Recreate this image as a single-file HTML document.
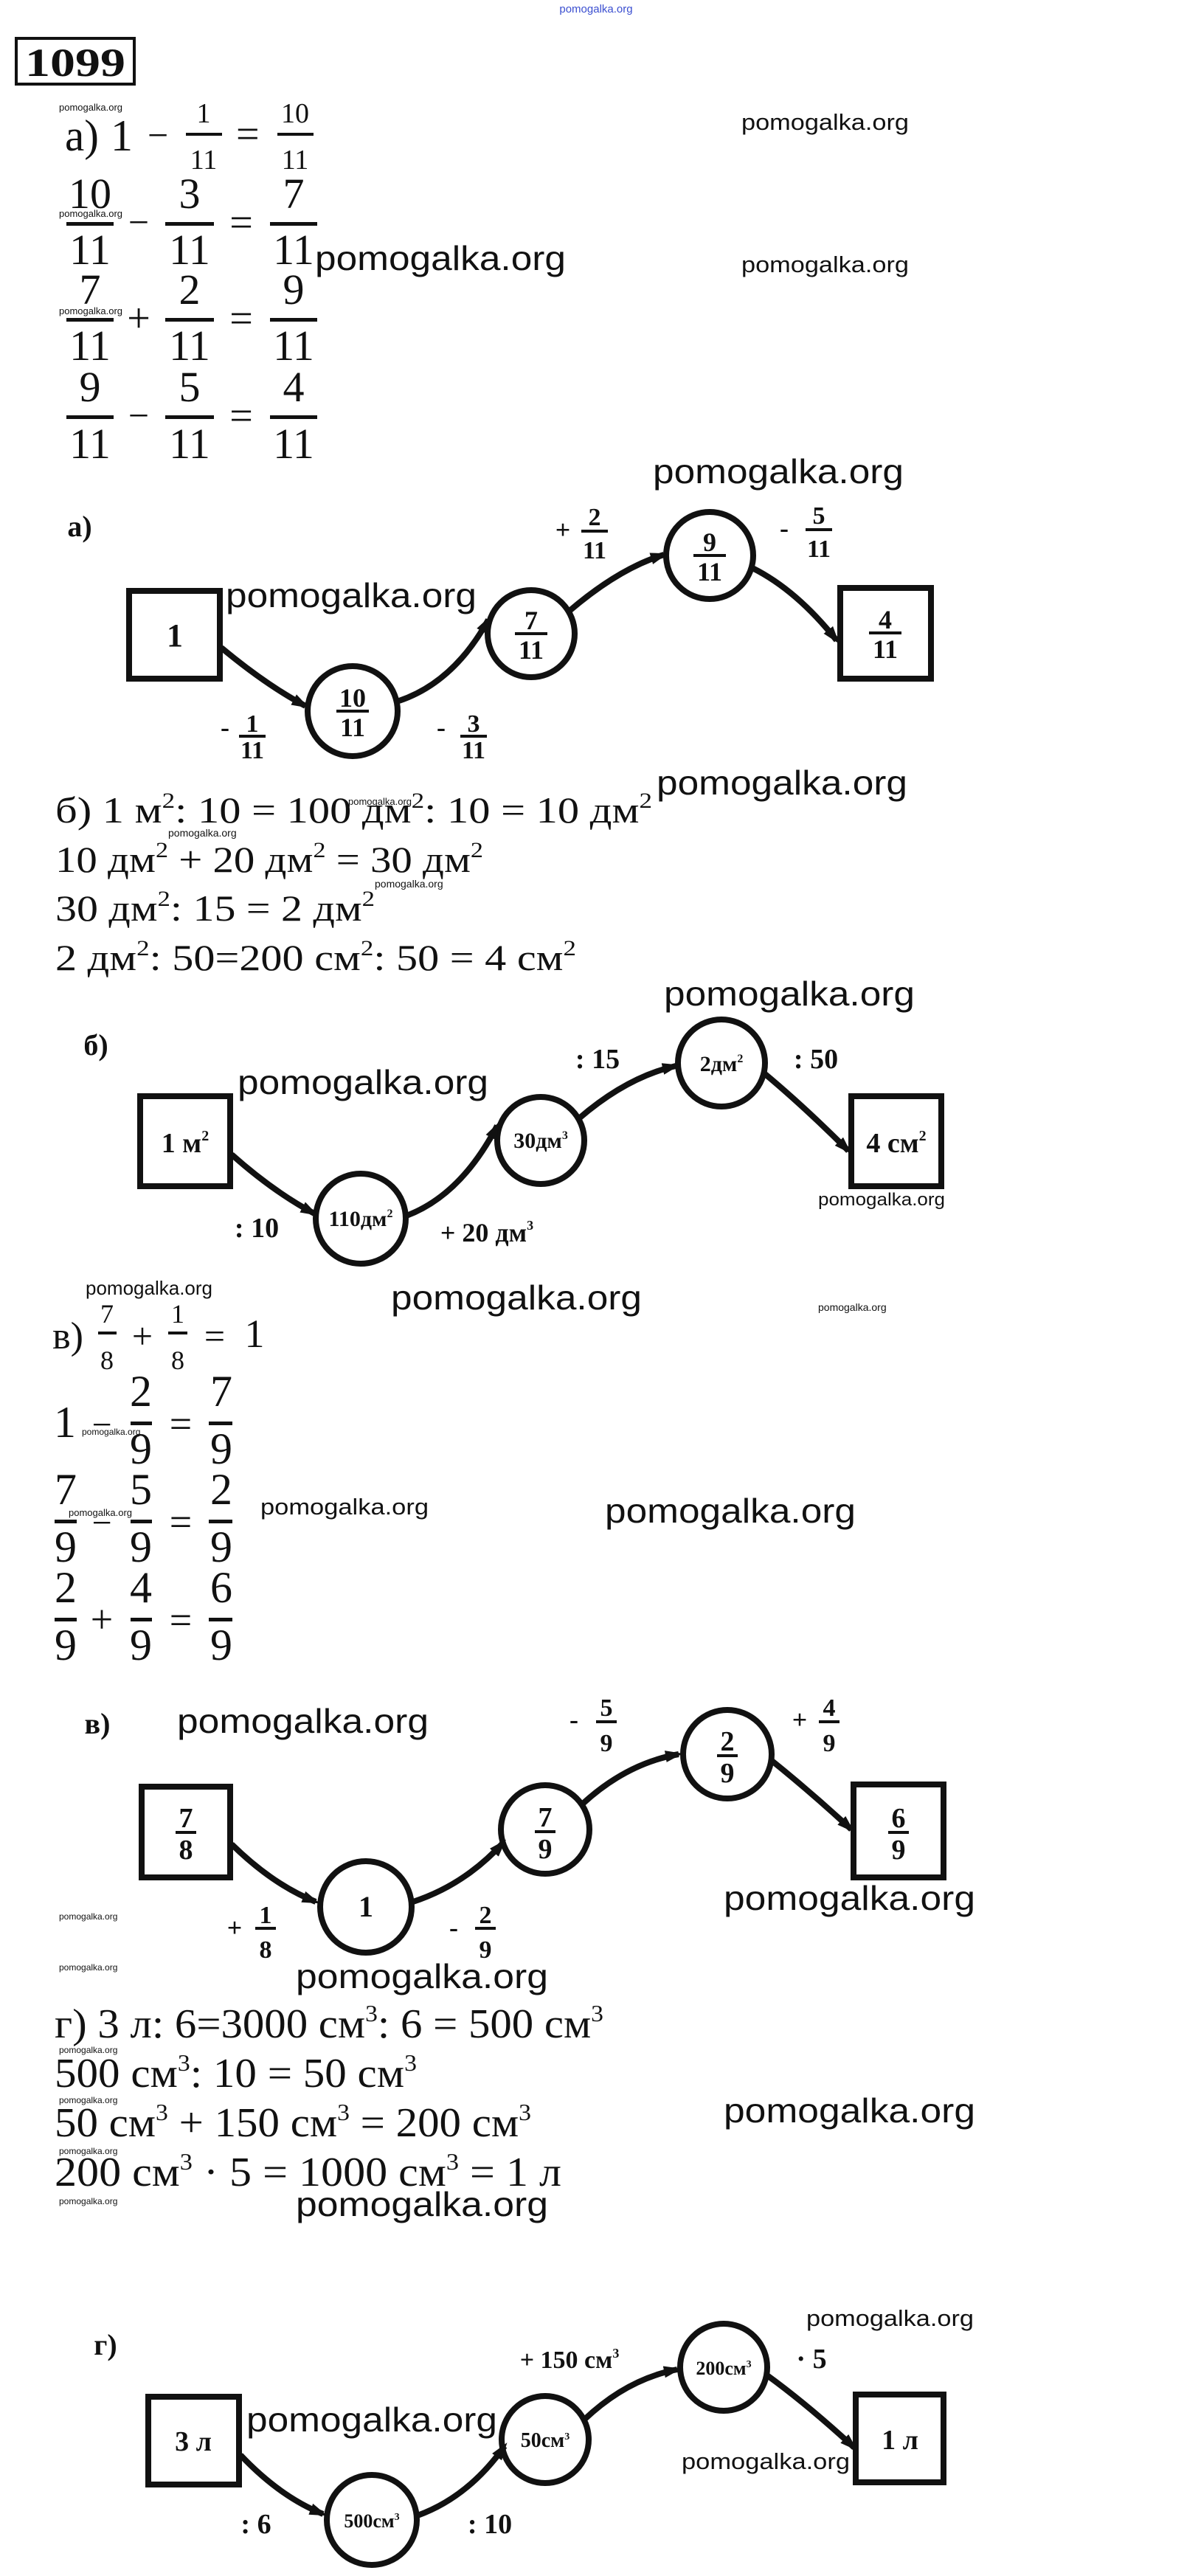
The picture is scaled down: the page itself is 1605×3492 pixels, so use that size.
<!DOCTYPE html>
<html><head><meta charset="utf-8">
<style>
html,body{margin:0;padding:0;background:#fff;}
svg{display:block;}
.wm{font-family:"Liberation Sans",sans-serif;fill:#111;}
.eq{font-family:"Liberation Serif",serif;fill:#111;}
.lb{font-family:"Liberation Serif",serif;font-weight:bold;fill:#111;}
</style></head>
<body>
<svg width="1605" height="3492" viewBox="0 0 1605 3492" xmlns="http://www.w3.org/2000/svg">
<defs>
<marker id="ah" markerWidth="24" markerHeight="20" refX="18" refY="10" orient="auto" markerUnits="userSpaceOnUse">
<path d="M0,2 L24,10 L0,18 z" fill="#111"/>
</marker>
</defs>
<rect width="1605" height="3492" fill="#fff"/>

<text x="808" y="17" font-size="15" text-anchor="middle" class="wm" style="fill:#3b4fd0">pomogalka.org</text>

<rect x="22" y="52" width="160" height="62" fill="none" stroke="#111" stroke-width="4"/>
<text x="102" y="103" font-size="54" font-weight="bold" text-anchor="middle" class="eq" textLength="136" lengthAdjust="spacingAndGlyphs">1099</text>

<g class="eq">
<text x="88" y="204" font-size="60" textLength="46" lengthAdjust="spacingAndGlyphs">а)</text>
<text x="150" y="204" font-size="60">1</text>
<text x="200" y="200" font-size="50">−</text>
<text x="276" y="166" font-size="38" text-anchor="middle">1</text>
<rect x="252" y="180" width="49" height="4" fill="#111"/>
<text x="276" y="229" font-size="38" text-anchor="middle">11</text>
<text x="320" y="200" font-size="56">=</text>
<text x="400" y="166" font-size="38" text-anchor="middle">10</text>
<rect x="376" y="180" width="49" height="4" fill="#111"/>
<text x="400" y="229" font-size="38" text-anchor="middle">11</text>
</g>

<g class="eq" font-size="58" text-anchor="middle">
<text x="122" y="282">10</text><rect x="90" y="301" width="64" height="5" fill="#111"/><text x="122" y="358">11</text>
<text x="188" y="318" font-size="50">−</text>
<text x="257" y="282">3</text><rect x="224" y="301" width="66" height="5" fill="#111"/><text x="257" y="358">11</text>
<text x="327" y="320" font-size="56">=</text>
<text x="398" y="282">7</text><rect x="366" y="301" width="64" height="5" fill="#111"/><text x="398" y="358">11</text>
<text x="122" y="412">7</text><rect x="90" y="431" width="64" height="5" fill="#111"/><text x="122" y="488">11</text>
<text x="188" y="450" font-size="56">+</text>
<text x="257" y="412">2</text><rect x="224" y="431" width="66" height="5" fill="#111"/><text x="257" y="488">11</text>
<text x="327" y="450" font-size="56">=</text>
<text x="398" y="412">9</text><rect x="366" y="431" width="64" height="5" fill="#111"/><text x="398" y="488">11</text>
<text x="122" y="544">9</text><rect x="90" y="563" width="64" height="5" fill="#111"/><text x="122" y="621">11</text>
<text x="188" y="580" font-size="50">−</text>
<text x="257" y="544">5</text><rect x="224" y="563" width="66" height="5" fill="#111"/><text x="257" y="621">11</text>
<text x="327" y="582" font-size="56">=</text>
<text x="398" y="544">4</text><rect x="366" y="563" width="64" height="5" fill="#111"/><text x="398" y="621">11</text>
</g>

<g class="wm">
<text x="80" y="150" font-size="13">pomogalka.org</text>
<text x="80" y="294" font-size="13">pomogalka.org</text>
<text x="80" y="426" font-size="13">pomogalka.org</text>
<text x="427" y="366" font-size="46" textLength="340" lengthAdjust="spacingAndGlyphs">pomogalka.org</text>
<text x="1005" y="176" font-size="31" textLength="227" lengthAdjust="spacingAndGlyphs">pomogalka.org</text>
<text x="1005" y="369" font-size="31" textLength="227" lengthAdjust="spacingAndGlyphs">pomogalka.org</text>
<text x="885" y="655" font-size="46" textLength="340" lengthAdjust="spacingAndGlyphs">pomogalka.org</text>
<text x="306" y="823" font-size="46" textLength="340" lengthAdjust="spacingAndGlyphs">pomogalka.org</text>
<text x="890" y="1077" font-size="46" textLength="340" lengthAdjust="spacingAndGlyphs">pomogalka.org</text>
</g>

<g stroke="#111" stroke-width="8" fill="none">
<rect x="175" y="801" width="123" height="119"/>
<circle cx="478" cy="964" r="61"/>
<circle cx="720" cy="859" r="59"/>
<circle cx="962" cy="753" r="59"/>
<rect x="1139" y="797" width="123" height="123"/>
<path d="M300,878 Q360,928 414,957" marker-end="url(#ah)"/>
<path d="M541,950 Q615,925 662,840" marker-end="url(#ah)"/>
<path d="M772,828 Q840,770 900,752" marker-end="url(#ah)"/>
<path d="M1020,770 Q1080,800 1134,868" marker-end="url(#ah)"/>
</g>
<g class="lb" text-anchor="middle">
<text x="108" y="727" font-size="40">а)</text>
<text x="237" y="876" font-size="44">1</text>
<text x="478" y="958" font-size="36">10</text><rect x="456" y="962" width="44" height="4" fill="#111"/><text x="478" y="998" font-size="36">11</text>
<text x="720" y="853" font-size="36">7</text><rect x="698" y="857" width="44" height="4" fill="#111"/><text x="720" y="893" font-size="36">11</text>
<text x="962" y="747" font-size="36">9</text><rect x="940" y="751" width="44" height="4" fill="#111"/><text x="962" y="787" font-size="36">11</text>
<text x="1200" y="852" font-size="36">4</text><rect x="1178" y="856" width="44" height="4" fill="#111"/><text x="1200" y="892" font-size="36">11</text>
<text x="305" y="998" font-size="36">-</text><text x="342" y="992" font-size="34">1</text><rect x="324" y="996" width="36" height="4" fill="#111"/><text x="342" y="1028" font-size="34">11</text>
<text x="598" y="998" font-size="36">-</text><text x="642" y="992" font-size="34">3</text><rect x="624" y="996" width="36" height="4" fill="#111"/><text x="642" y="1028" font-size="34">11</text>
<text x="763" y="730" font-size="36">+</text><text x="806" y="712" font-size="34">2</text><rect x="788" y="718" width="36" height="4" fill="#111"/><text x="806" y="757" font-size="34">11</text>
<text x="1063" y="728" font-size="36">-</text><text x="1110" y="710" font-size="34">5</text><rect x="1092" y="716" width="36" height="4" fill="#111"/><text x="1110" y="755" font-size="34">11</text>
</g>

<g class="eq" font-size="50">
<text x="75" y="1115" textLength="809" lengthAdjust="spacingAndGlyphs">б) 1 м<tspan font-size="30" dy="-20">2</tspan><tspan dy="20">: 10 = 100 дм</tspan><tspan font-size="30" dy="-20">2</tspan><tspan dy="20">: 10 = 10 дм</tspan><tspan font-size="30" dy="-20">2</tspan></text>
<text x="75" y="1182" textLength="580" lengthAdjust="spacingAndGlyphs">10 дм<tspan font-size="30" dy="-20">2</tspan><tspan dy="20"> + 20 дм</tspan><tspan font-size="30" dy="-20">2</tspan><tspan dy="20"> = 30 дм</tspan><tspan font-size="30" dy="-20">2</tspan></text>
<text x="75" y="1248" textLength="433" lengthAdjust="spacingAndGlyphs">30 дм<tspan font-size="30" dy="-20">2</tspan><tspan dy="20">: 15 = 2 дм</tspan><tspan font-size="30" dy="-20">2</tspan></text>
<text x="75" y="1315" textLength="706" lengthAdjust="spacingAndGlyphs">2 дм<tspan font-size="30" dy="-20">2</tspan><tspan dy="20">: 50=200 см</tspan><tspan font-size="30" dy="-20">2</tspan><tspan dy="20">: 50 = 4 см</tspan><tspan font-size="30" dy="-20">2</tspan></text>
</g>
<g class="wm">
<text x="472" y="1091" font-size="13">pomogalka.org</text>
<text x="228" y="1134" font-size="14">pomogalka.org</text>
<text x="508" y="1203" font-size="14">pomogalka.org</text>
<text x="900" y="1363" font-size="46" textLength="340" lengthAdjust="spacingAndGlyphs">pomogalka.org</text>
<text x="322" y="1483" font-size="46" textLength="340" lengthAdjust="spacingAndGlyphs">pomogalka.org</text>
<text x="1109" y="1634" font-size="24" textLength="172" lengthAdjust="spacingAndGlyphs">pomogalka.org</text>
<text x="116" y="1755" font-size="26" textLength="172" lengthAdjust="spacingAndGlyphs">pomogalka.org</text>
<text x="530" y="1775" font-size="46" textLength="340" lengthAdjust="spacingAndGlyphs">pomogalka.org</text>
<text x="1109" y="1777" font-size="14">pomogalka.org</text>
</g>

<g stroke="#111" stroke-width="8" fill="none">
<rect x="190" y="1486" width="122" height="122"/>
<circle cx="489" cy="1652" r="61"/>
<circle cx="733" cy="1546" r="59"/>
<circle cx="978" cy="1441" r="59"/>
<rect x="1154" y="1486" width="122" height="122"/>
<path d="M314,1565 Q370,1615 426,1645" marker-end="url(#ah)"/>
<path d="M551,1648 Q625,1620 674,1526" marker-end="url(#ah)"/>
<path d="M785,1516 Q850,1460 916,1445" marker-end="url(#ah)"/>
<path d="M1036,1455 Q1090,1500 1150,1560" marker-end="url(#ah)"/>
</g>
<g class="lb" text-anchor="middle">
<text x="130" y="1430" font-size="40">б)</text>
<text x="251" y="1562" font-size="38">1 м<tspan font-size="20" dy="-16">2</tspan></text>
<text x="489" y="1662" font-size="30">110дм<tspan font-size="16" dy="-12">2</tspan></text>
<text x="733" y="1556" font-size="30">30дм<tspan font-size="16" dy="-12">3</tspan></text>
<text x="978" y="1452" font-size="30">2дм<tspan font-size="16" dy="-12">2</tspan></text>
<text x="1215" y="1562" font-size="38">4 см<tspan font-size="20" dy="-16">2</tspan></text>
<text x="348" y="1677" font-size="38">: 10</text>
<text x="660" y="1683" font-size="36">+ 20 дм<tspan font-size="18" dy="-16">3</tspan></text>
<text x="810" y="1448" font-size="38">: 15</text>
<text x="1106" y="1448" font-size="38">: 50</text>
</g>

<g class="eq" text-anchor="middle">
<text x="92" y="1828" font-size="52">в)</text>
<text x="145" y="1793" font-size="36">7</text><rect x="133" y="1805" width="25" height="4" fill="#111"/><text x="145" y="1856" font-size="36">8</text>
<text x="193" y="1828" font-size="50">+</text>
<text x="241" y="1793" font-size="36">1</text><rect x="228" y="1805" width="26" height="4" fill="#111"/><text x="241" y="1856" font-size="36">8</text>
<text x="291" y="1828" font-size="50">=</text>
<text x="345" y="1826" font-size="54">1</text>
</g>
<g class="eq" font-size="60" text-anchor="middle">
<text x="88" y="1948">1</text>
<text x="138" y="1947" font-size="48">−</text>
<text x="191" y="1906">2</text><rect x="177" y="1927" width="29" height="5" fill="#111"/><text x="191" y="1984">9</text>
<text x="245" y="1948" font-size="54">=</text>
<text x="300" y="1906">7</text><rect x="283" y="1927" width="32" height="5" fill="#111"/><text x="300" y="1984">9</text>
<text x="89" y="2039">7</text><rect x="74" y="2060" width="30" height="5" fill="#111"/><text x="89" y="2117">9</text>
<text x="138" y="2080" font-size="48">−</text>
<text x="191" y="2039">5</text><rect x="177" y="2060" width="29" height="5" fill="#111"/><text x="191" y="2117">9</text>
<text x="245" y="2081" font-size="54">=</text>
<text x="300" y="2039">2</text><rect x="283" y="2060" width="32" height="5" fill="#111"/><text x="300" y="2117">9</text>
<text x="89" y="2172">2</text><rect x="74" y="2193" width="30" height="5" fill="#111"/><text x="89" y="2250">9</text>
<text x="138" y="2213" font-size="54">+</text>
<text x="191" y="2172">4</text><rect x="177" y="2193" width="29" height="5" fill="#111"/><text x="191" y="2250">9</text>
<text x="245" y="2214" font-size="54">=</text>
<text x="300" y="2172">6</text><rect x="283" y="2193" width="32" height="5" fill="#111"/><text x="300" y="2250">9</text>
</g>
<g class="wm">
<text x="111" y="1945" font-size="12">pomogalka.org</text>
<text x="93" y="2055" font-size="13">pomogalka.org</text>
<text x="353" y="2053" font-size="31" textLength="228" lengthAdjust="spacingAndGlyphs">pomogalka.org</text>
<text x="820" y="2064" font-size="46" textLength="340" lengthAdjust="spacingAndGlyphs">pomogalka.org</text>
<text x="240" y="2349" font-size="46" textLength="341" lengthAdjust="spacingAndGlyphs">pomogalka.org</text>
<text x="981" y="2589" font-size="46" textLength="341" lengthAdjust="spacingAndGlyphs">pomogalka.org</text>
<text x="80" y="2602" font-size="12">pomogalka.org</text>
<text x="80" y="2671" font-size="12">pomogalka.org</text>
<text x="401" y="2695" font-size="46" textLength="342" lengthAdjust="spacingAndGlyphs">pomogalka.org</text>
</g>

<g stroke="#111" stroke-width="8" fill="none">
<rect x="192" y="2422" width="120" height="123"/>
<circle cx="496" cy="2585" r="62"/>
<circle cx="739" cy="2480" r="60"/>
<circle cx="986" cy="2378" r="60"/>
<rect x="1157" y="2419" width="122" height="126"/>
<path d="M314,2500 Q370,2555 428,2578" marker-end="url(#ah)"/>
<path d="M560,2578 Q630,2555 682,2498" marker-end="url(#ah)"/>
<path d="M790,2445 Q850,2390 920,2378" marker-end="url(#ah)"/>
<path d="M1044,2385 Q1100,2430 1154,2480" marker-end="url(#ah)"/>
</g>
<g class="lb" text-anchor="middle">
<text x="132" y="2350" font-size="40">в)</text>
<text x="252" y="2477" font-size="38">7</text><rect x="238" y="2482" width="28" height="4" fill="#111"/><text x="252" y="2520" font-size="38">8</text>
<text x="496" y="2598" font-size="40">1</text>
<text x="739" y="2476" font-size="38">7</text><rect x="725" y="2481" width="28" height="4" fill="#111"/><text x="739" y="2519" font-size="38">9</text>
<text x="986" y="2373" font-size="38">2</text><rect x="972" y="2378" width="28" height="4" fill="#111"/><text x="986" y="2416" font-size="38">9</text>
<text x="1218" y="2477" font-size="38">6</text><rect x="1204" y="2482" width="28" height="4" fill="#111"/><text x="1218" y="2520" font-size="38">9</text>
<text x="318" y="2625" font-size="36">+</text><text x="360" y="2607" font-size="34">1</text><rect x="346" y="2612" width="28" height="4" fill="#111"/><text x="360" y="2654" font-size="34">8</text>
<text x="615" y="2625" font-size="36">-</text><text x="658" y="2607" font-size="34">2</text><rect x="644" y="2612" width="28" height="4" fill="#111"/><text x="658" y="2654" font-size="34">9</text>
<text x="778" y="2343" font-size="36">-</text><text x="822" y="2326" font-size="34">5</text><rect x="808" y="2332" width="28" height="4" fill="#111"/><text x="822" y="2374" font-size="34">9</text>
<text x="1084" y="2343" font-size="36">+</text><text x="1124" y="2326" font-size="34">4</text><rect x="1110" y="2332" width="28" height="4" fill="#111"/><text x="1124" y="2374" font-size="34">9</text>
</g>

<g class="eq" font-size="56">
<text x="74" y="2762" textLength="744" lengthAdjust="spacingAndGlyphs">г) 3 л: 6=3000 см<tspan font-size="32" dy="-22">3</tspan><tspan dy="22">: 6 = 500 см</tspan><tspan font-size="32" dy="-22">3</tspan></text>
<text x="74" y="2829" textLength="491" lengthAdjust="spacingAndGlyphs">500 см<tspan font-size="32" dy="-22">3</tspan><tspan dy="22">: 10 = 50 см</tspan><tspan font-size="32" dy="-22">3</tspan></text>
<text x="74" y="2896" textLength="646" lengthAdjust="spacingAndGlyphs">50 см<tspan font-size="32" dy="-22">3</tspan><tspan dy="22"> + 150 см</tspan><tspan font-size="32" dy="-22">3</tspan><tspan dy="22"> = 200 см</tspan><tspan font-size="32" dy="-22">3</tspan></text>
<text x="74" y="2963" textLength="687" lengthAdjust="spacingAndGlyphs">200 см<tspan font-size="32" dy="-22">3</tspan><tspan dy="22"> ·  5 = 1000 см</tspan><tspan font-size="32" dy="-22">3</tspan><tspan dy="22"> = 1 л</tspan></text>
</g>
<g class="wm">
<text x="80" y="2783" font-size="12">pomogalka.org</text>
<text x="80" y="2851" font-size="12">pomogalka.org</text>
<text x="80" y="2920" font-size="12">pomogalka.org</text>
<text x="80" y="2988" font-size="12">pomogalka.org</text>
<text x="981" y="2877" font-size="46" textLength="341" lengthAdjust="spacingAndGlyphs">pomogalka.org</text>
<text x="401" y="3004" font-size="46" textLength="342" lengthAdjust="spacingAndGlyphs">pomogalka.org</text>
<text x="1093" y="3153" font-size="31" textLength="227" lengthAdjust="spacingAndGlyphs">pomogalka.org</text>
<text x="334" y="3296" font-size="46" textLength="340" lengthAdjust="spacingAndGlyphs">pomogalka.org</text>
<text x="924" y="3347" font-size="31" textLength="228" lengthAdjust="spacingAndGlyphs">pomogalka.org</text>
</g>

<g stroke="#111" stroke-width="8" fill="none">
<rect x="201" y="3249" width="123" height="119"/>
<circle cx="504" cy="3416" r="61"/>
<circle cx="739" cy="3307" r="59"/>
<circle cx="981" cy="3209" r="59"/>
<rect x="1160" y="3246" width="119" height="119"/>
<path d="M326,3328 Q380,3385 438,3408" marker-end="url(#ah)"/>
<path d="M566,3410 Q635,3385 684,3316" marker-end="url(#ah)"/>
<path d="M792,3280 Q850,3225 918,3212" marker-end="url(#ah)"/>
<path d="M1040,3220 Q1095,3260 1158,3318" marker-end="url(#ah)"/>
</g>
<g class="lb" text-anchor="middle">
<text x="143" y="3192" font-size="40">г)</text>
<text x="262" y="3322" font-size="38">3 л</text>
<text x="504" y="3426" font-size="26">500см<tspan font-size="14" dy="-10">3</tspan></text>
<text x="739" y="3317" font-size="28">50см<tspan font-size="14" dy="-10">3</tspan></text>
<text x="981" y="3219" font-size="26">200см<tspan font-size="14" dy="-10">3</tspan></text>
<text x="1220" y="3320" font-size="38">1 л</text>
<text x="347" y="3434" font-size="38">: 6</text>
<text x="664" y="3434" font-size="38">: 10</text>
<text x="772" y="3210" font-size="34">+ 150 см<tspan font-size="18" dy="-14">3</tspan></text>
<text x="1100" y="3210" font-size="38">· 5</text>
</g>
</svg>
</body></html>
